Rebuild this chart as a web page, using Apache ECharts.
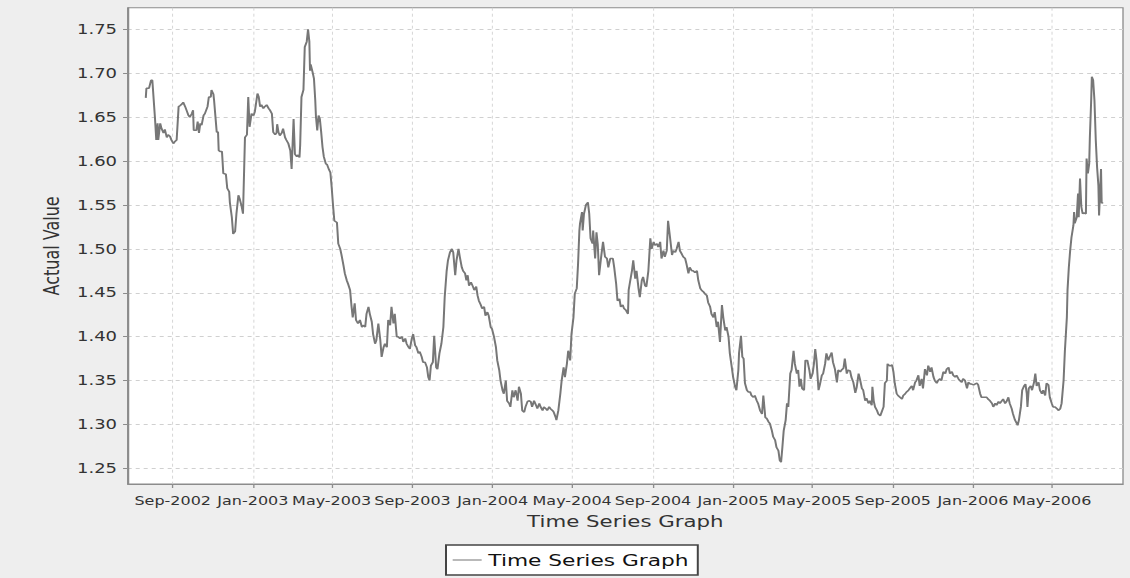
<!DOCTYPE html>
<html><head><meta charset="utf-8">
<script src="https://cdn.jsdelivr.net/npm/echarts@6/dist/echarts.min.js"></script>
<style>
html,body{margin:0;padding:0;background:#eeeeee;overflow:hidden;width:1130px;height:578px}
#chart{width:848px;height:578px;transform:scaleX(1.332547);transform-origin:0 0}
</style></head><body><div id="chart"></div>
<script>
// ---- data ----
const seriesName = 'Time Series Graph';
const xAxisTitle = 'Time Series Graph';
const yAxisTitle = 'Actual Value';
const baseDate = '2002-07-01'; // day 0 of dayOffsets
const dayOffsets = [
21,22,26,29,31,35,37,39,40,43,
45,48,50,53,55,58,60,63,65,68,
71,73,76,78,81,83,86,88,91,93,
94,98,100,102,104,106,109,111,115,117,
120,121,124,125,129,131,132,134,137,139,
143,145,148,149,152,154,157,159,162,164,
167,169,172,175,177,179,182,185,187,191,
193,195,197,200,202,205,208,210,213,215,
218,220,221,223,225,228,230,233,235,238,
241,243,246,248,251,253,255,256,258,261,
263,266,268,270,271,272,275,277,279,280,
282,284,286,288,290,292,295,297,300,302,
304,306,308,312,314,317,319,322,324,327,
329,332,334,336,339,341,344,347,350,352,
355,357,360,362,365,367,370,372,375,378,
380,383,385,388,390,393,395,398,400,403,
405,408,411,413,416,418,421,423,426,428,
431,433,436,438,441,443,446,449,451,453,
455,458,460,463,465,468,471,474,476,479,
481,484,487,489,492,494,497,499,502,504,
507,509,511,513,516,519,521,524,526,528,
531,533,536,538,541,543,546,548,551,554,
556,559,561,564,566,569,571,574,576,579,
581,584,587,589,592,594,597,599,602,604,
607,609,612,615,617,620,622,625,627,630,
632,635,637,640,642,645,646,649,652,654,
657,659,662,664,667,669,672,674,677,679,
681,682,685,686,688,691,694,696,698,701,
702,705,707,709,711,714,717,720,723,725,
728,732,734,737,739,742,744,747,749,752,
755,756,758,761,763,766,768,771,773,776,
778,781,783,786,789,791,794,796,799,801,
804,806,809,811,814,816,819,822,824,827,
829,832,834,837,839,842,844,847,849,852,
854,857,860,862,865,867,870,872,875,877,
880,882,885,887,890,892,895,898,900,903,
905,908,910,913,915,918,920,923,924,927,
929,931,933,936,938,941,943,946,948,951,
953,956,959,961,964,966,969,971,974,976,
979,981,984,986,988,990,992,995,997,999,
1002,1004,1007,1009,1012,1014,1016,1018,1020,1023,
1025,1028,1031,1033,1036,1038,1040,1042,1045,1047,
1050,1052,1055,1057,1060,1062,1065,1067,1070,1073,
1075,1078,1080,1083,1085,1088,1090,1093,1095,1098,
1101,1103,1106,1108,1111,1113,1116,1118,1121,1123,
1126,1127,1129,1131,1134,1136,1139,1141,1144,1146,
1149,1150,1153,1155,1157,1159,1161,1164,1166,1169,
1172,1174,1177,1179,1182,1184,1187,1189,1192,1194,
1197,1199,1202,1204,1207,1210,1212,1215,1217,1220,
1222,1225,1227,1230,1232,1235,1238,1240,1243,1245,
1248,1250,1253,1255,1258,1260,1263,1265,1268,1271,
1273,1276,1278,1281,1283,1286,1288,1291,1293,1296,
1298,1301,1303,1306,1309,1311,1314,1316,1319,1321,
1324,1326,1329,1331,1334,1336,1339,1341,1344,1347,
1348,1350,1353,1355,1358,1360,1362,1363,1365,1368,
1370,1373,1375,1377,1380,1382,1385,1387,1390,1392,
1395,1397,1400,1402,1405,1408,1410,1413,1415,1418,
1420,1423,1424,1426,1428,1430,1433,1434,1435,1438,
1440,1441,1443,1445,1447,1449,1452,1453,1455,1457,
1458,1460,1461,1463,1465,1467,1469,1471,1472,1475,
1476,1478
];
const actualValues = [
1.672,1.683,1.683,1.692,1.692,1.649,1.624,1.643,1.624,1.643,
1.637,1.632,1.636,1.627,1.630,1.628,1.624,1.620,1.622,1.624,
1.662,1.663,1.665,1.667,1.662,1.658,1.652,1.650,1.654,1.658,
1.635,1.635,1.645,1.632,1.643,1.641,1.652,1.654,1.662,1.673,
1.673,1.681,1.676,1.669,1.633,1.633,1.612,1.611,1.611,1.586,
1.585,1.569,1.565,1.553,1.536,1.517,1.520,1.540,1.561,1.557,
1.548,1.540,1.627,1.630,1.673,1.639,1.654,1.652,1.656,1.677,
1.673,1.662,1.664,1.660,1.662,1.664,1.660,1.658,1.654,1.633,
1.630,1.632,1.642,1.633,1.629,1.632,1.637,1.627,1.624,1.620,
1.612,1.591,1.648,1.608,1.605,1.607,1.604,1.618,1.673,1.681,
1.730,1.736,1.750,1.736,1.703,1.710,1.701,1.694,1.669,1.651,
1.635,1.652,1.648,1.633,1.616,1.605,1.597,1.596,1.590,1.587,
1.570,1.550,1.532,1.530,1.506,1.500,1.493,1.481,1.472,1.464,
1.460,1.453,1.436,1.422,1.438,1.419,1.415,1.419,1.411,1.413,
1.411,1.426,1.434,1.426,1.417,1.403,1.392,1.396,1.415,1.396,
1.377,1.388,1.392,1.388,1.419,1.413,1.434,1.415,1.426,1.400,
1.400,1.398,1.400,1.394,1.398,1.392,1.388,1.386,1.398,1.403,
1.390,1.388,1.381,1.383,1.377,1.371,1.371,1.365,1.354,1.350,
1.367,1.371,1.401,1.365,1.363,1.381,1.392,1.411,1.445,1.475,
1.487,1.496,1.500,1.496,1.470,1.487,1.500,1.491,1.479,1.475,
1.472,1.464,1.470,1.458,1.462,1.457,1.453,1.457,1.447,1.441,
1.436,1.432,1.434,1.424,1.428,1.424,1.411,1.409,1.400,1.388,
1.373,1.362,1.350,1.339,1.335,1.350,1.327,1.324,1.320,1.339,
1.331,1.339,1.327,1.343,1.335,1.316,1.314,1.320,1.326,1.327,
1.326,1.320,1.327,1.322,1.318,1.324,1.320,1.316,1.320,1.318,
1.316,1.320,1.318,1.316,1.314,1.308,1.305,1.316,1.335,1.350,
1.365,1.354,1.369,1.384,1.373,1.403,1.422,1.449,1.455,1.483,
1.521,1.529,1.542,1.521,1.540,1.550,1.553,1.540,1.512,1.506,
1.521,1.489,1.519,1.505,1.470,1.490,1.508,1.491,1.489,1.479,
1.489,1.489,1.479,1.460,1.441,1.443,1.434,1.436,1.432,1.430,
1.426,1.453,1.462,1.475,1.487,1.466,1.475,1.455,1.445,1.464,
1.468,1.458,1.457,1.475,1.512,1.500,1.508,1.504,1.506,1.502,
1.508,1.489,1.498,1.491,1.498,1.532,1.513,1.493,1.498,1.496,
1.500,1.508,1.498,1.494,1.491,1.489,1.483,1.472,1.479,1.475,
1.475,1.473,1.475,1.464,1.455,1.453,1.451,1.449,1.447,1.439,
1.434,1.426,1.422,1.428,1.411,1.417,1.394,1.436,1.422,1.407,
1.411,1.400,1.381,1.365,1.354,1.343,1.339,1.362,1.381,1.401,
1.377,1.375,1.347,1.339,1.337,1.337,1.333,1.331,1.333,1.327,
1.324,1.316,1.312,1.333,1.308,1.307,1.303,1.301,1.293,1.286,
1.282,1.274,1.270,1.259,1.257,1.274,1.293,1.305,1.324,1.320,
1.358,1.362,1.384,1.369,1.358,1.362,1.343,1.352,1.341,1.339,
1.373,1.373,1.362,1.352,1.358,1.369,1.386,1.373,1.339,1.345,
1.356,1.358,1.369,1.381,1.373,1.377,1.382,1.371,1.363,1.348,
1.362,1.360,1.362,1.364,1.375,1.358,1.362,1.361,1.354,1.348,
1.336,1.342,1.358,1.352,1.341,1.339,1.327,1.330,1.324,1.327,
1.322,1.343,1.327,1.320,1.316,1.312,1.310,1.314,1.320,1.347,
1.350,1.369,1.367,1.367,1.368,1.360,1.347,1.335,1.333,1.331,
1.329,1.333,1.335,1.337,1.339,1.341,1.344,1.339,1.348,1.350,
1.356,1.344,1.352,1.341,1.363,1.356,1.367,1.360,1.365,1.354,
1.350,1.347,1.350,1.352,1.350,1.360,1.358,1.363,1.365,1.358,
1.360,1.356,1.354,1.356,1.352,1.350,1.348,1.352,1.350,1.341,
1.348,1.346,1.346,1.345,1.346,1.347,1.345,1.335,1.331,1.331,
1.331,1.331,1.329,1.327,1.324,1.320,1.324,1.322,1.326,1.324,
1.327,1.329,1.324,1.326,1.331,1.324,1.318,1.312,1.305,1.301,
1.299,1.305,1.320,1.339,1.344,1.346,1.335,1.320,1.341,1.344,
1.339,1.348,1.358,1.344,1.348,1.339,1.335,1.339,1.333,1.347,
1.345,1.331,1.324,1.320,1.320,1.318,1.316,1.318,1.324,1.350,
1.384,1.422,1.453,1.479,1.498,1.513,1.527,1.542,1.529,1.536,
1.563,1.536,1.580,1.548,1.540,1.541,1.540,1.603,1.586,1.597,
1.627,1.669,1.696,1.692,1.669,1.624,1.593,1.572,1.538,1.591,
1.552,1.553
];
const tickDates = ['2002-09-01','2003-01-01','2003-05-01','2003-09-01','2004-01-01','2004-05-01',
                   '2004-09-01','2005-01-01','2005-05-01','2005-09-01','2006-01-01','2006-05-01'];
const tickLabels = ['Sep-2002','Jan-2003','May-2003','Sep-2003','Jan-2004','May-2004',
                    'Sep-2004','Jan-2005','May-2005','Sep-2005','Jan-2006','May-2006'];
const yTicks = [1.25,1.30,1.35,1.40,1.45,1.50,1.55,1.60,1.65,1.70,1.75];
const xRange = ['2002-06-24T12:00:00Z','2006-08-17T10:48:00Z'];
const yRange = [1.2322, 1.7747];

// ---- build ----
const DAY = 86400000;
const base = Date.parse(baseDate + 'T00:00:00Z');
const seriesData = dayOffsets.map((d, i) => [base + d * DAY, actualValues[i]]);
const tickTs = tickDates.map(s => Date.parse(s + 'T00:00:00Z'));
const FONT = 'DejaVu Sans';
const AXIS_GRAY = '#8c8c8c';

const chart = echarts.init(document.getElementById('chart'), null, {renderer: 'svg'});
chart.setOption({
  animation: false,
  backgroundColor: '#eeeeee',
  textStyle: {fontFamily: FONT},
  grid: {left: 95.83, right: 5.25, top: 7.7, bottom: 94, show: true,
         backgroundColor: '#ffffff', borderColor: AXIS_GRAY, borderWidth: 1},
  legend: {
    left: 334.7, top: 545, selectedMode: false,
    data: [{name: seriesName, icon: 'rect'}],
    backgroundColor: '#ffffff', borderColor: '#444444', borderWidth: 1.5, borderRadius: 0,
    padding: [7, 7, 7, 5], itemWidth: 21.75, itemHeight: 1.2,
    itemStyle: {color: '#8a8a8a', borderWidth: 0},
    textStyle: {fontSize: 16.3, color: '#111111', fontFamily: FONT}
  },
  xAxis: {
    type: 'value', scale: true,
    min: Date.parse(xRange[0]), max: Date.parse(xRange[1]),
    name: xAxisTitle, nameLocation: 'middle', nameGap: 29,
    nameTextStyle: {fontSize: 16, color: '#333333', fontFamily: FONT},
    axisLine: {show: true, lineStyle: {color: AXIS_GRAY, width: 1}},
    axisTick: {show: true, customValues: tickTs, length: 4, inside: false,
               lineStyle: {color: AXIS_GRAY, width: 1}},
    axisLabel: {customValues: tickTs, margin: 11, fontSize: 12, color: '#333333',
                fontFamily: FONT, hideOverlap: false, showMinLabel: true, showMaxLabel: true,
                formatter: v => { const i = tickTs.indexOf(v); return i >= 0 ? tickLabels[i] : ''; }},
    splitLine: {show: true, lineStyle: {color: '#d0d0d0', width: 0.75, type: [3, 3]}}
  },
  yAxis: {
    type: 'value',
    min: yRange[0], max: yRange[1],
    name: yAxisTitle, nameLocation: 'middle', nameGap: 48,
    nameTextStyle: {fontSize: 16, color: '#333333', fontFamily: FONT},
    axisLine: {show: true, lineStyle: {color: AXIS_GRAY, width: 1}},
    axisTick: {show: true, customValues: yTicks, length: 3.5, lineStyle: {color: AXIS_GRAY, width: 1}},
    axisLabel: {customValues: yTicks, margin: 8, fontSize: 13.5, color: '#333333', fontFamily: FONT,
                showMinLabel: true, showMaxLabel: true, formatter: v => v.toFixed(2)},
    splitLine: {show: true, lineStyle: {color: '#d0d0d0', width: 1, type: [3, 3]}}
  },
  series: [{
    name: seriesName, type: 'line', data: seriesData,
    symbol: 'none', showSymbol: false,
    lineStyle: {color: '#777777', width: 1.5},
    itemStyle: {color: '#777777'}
  }]
});
</script></body></html>
